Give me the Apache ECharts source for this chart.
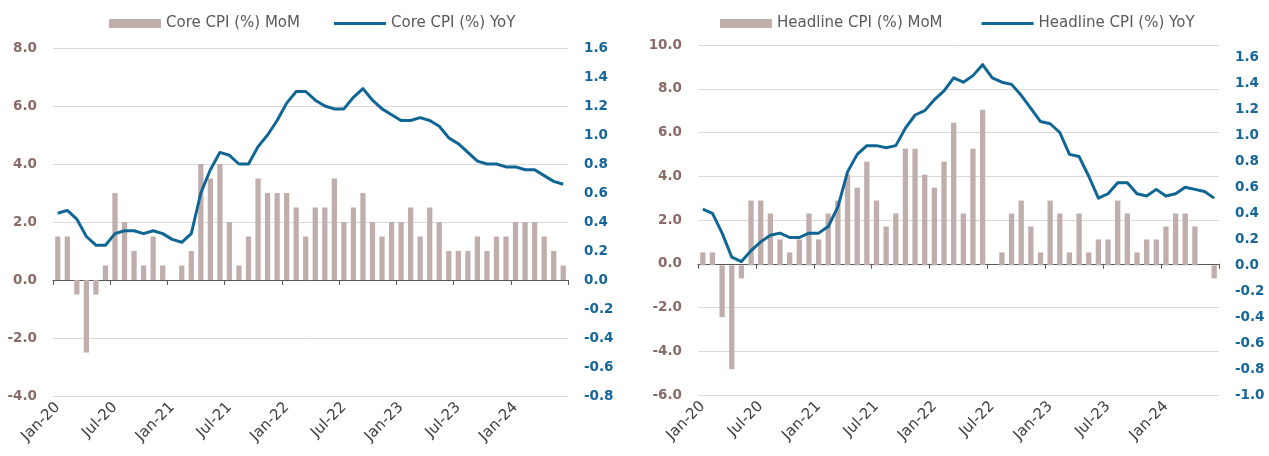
<!DOCTYPE html>
<html>
<head>
<meta charset="utf-8">
<script src="https://cdn.jsdelivr.net/npm/echarts@6/dist/echarts.min.js"></script>
<style>
  html, body { margin: 0; padding: 0; background: #fff; }
  #chart { width: 1269px; height: 456px; }
</style>
</head>
<body>
<div id="chart"></div>
<script>
// months, Jan-20 .. Jun-24
const months = [
  'Jan-20', 'Feb-20', 'Mar-20', 'Apr-20', 'May-20', 'Jun-20', 'Jul-20', 'Aug-20', 'Sep-20', 'Oct-20', 'Nov-20', 'Dec-20',
  'Jan-21', 'Feb-21', 'Mar-21', 'Apr-21', 'May-21', 'Jun-21', 'Jul-21', 'Aug-21', 'Sep-21', 'Oct-21', 'Nov-21', 'Dec-21',
  'Jan-22', 'Feb-22', 'Mar-22', 'Apr-22', 'May-22', 'Jun-22', 'Jul-22', 'Aug-22', 'Sep-22', 'Oct-22', 'Nov-22', 'Dec-22',
  'Jan-23', 'Feb-23', 'Mar-23', 'Apr-23', 'May-23', 'Jun-23', 'Jul-23', 'Aug-23', 'Sep-23', 'Oct-23', 'Nov-23', 'Dec-23',
  'Jan-24', 'Feb-24', 'Mar-24', 'Apr-24', 'May-24', 'Jun-24'
]

// core CPI
const coreMoM = [
  0.3, 0.3, -0.1, -0.5, -0.1, 0.1, 0.6, 0.4, 0.2, 0.1, 0.3, 0.1,
  0.0, 0.1, 0.2, 0.8, 0.7, 0.8, 0.4, 0.1, 0.3, 0.7, 0.6, 0.6,
  0.6, 0.5, 0.3, 0.5, 0.5, 0.7, 0.4, 0.5, 0.6, 0.4, 0.3, 0.4,
  0.4, 0.5, 0.3, 0.5, 0.4, 0.2, 0.2, 0.2, 0.3, 0.2, 0.3, 0.3,
  0.4, 0.4, 0.4, 0.3, 0.2, 0.1
]
const coreYoY = [
  2.3, 2.4, 2.1, 1.5, 1.2, 1.2, 1.6, 1.7, 1.7, 1.6, 1.7, 1.6,
  1.4, 1.3, 1.6, 3.0, 3.8, 4.4, 4.3, 4.0, 4.0, 4.6, 5.0, 5.5,
  6.1, 6.5, 6.5, 6.2, 6.0, 5.9, 5.9, 6.3, 6.6, 6.2, 5.9, 5.7,
  5.5, 5.5, 5.6, 5.5, 5.3, 4.9, 4.7, 4.4, 4.1, 4.0, 4.0, 3.9,
  3.9, 3.8, 3.8, 3.6, 3.4, 3.3
]

// headline CPI
const headMoM = [
  0.1, 0.1, -0.4, -0.8, -0.1, 0.5, 0.5, 0.4, 0.2, 0.1, 0.2, 0.4,
  0.2, 0.4, 0.5, 0.7, 0.6, 0.8, 0.5, 0.3, 0.4, 0.9, 0.9, 0.7,
  0.6, 0.8, 1.1, 0.4, 0.9, 1.2, 0.0, 0.1, 0.4, 0.5, 0.3, 0.1,
  0.5, 0.4, 0.1, 0.4, 0.1, 0.2, 0.2, 0.5, 0.4, 0.1, 0.2, 0.2,
  0.3, 0.4, 0.4, 0.3, 0.0, -0.1
]
const headYoY = [
  2.5, 2.3, 1.4, 0.3, 0.1, 0.6, 1.0, 1.3, 1.4, 1.2, 1.2, 1.4,
  1.4, 1.7, 2.6, 4.2, 5.0, 5.4, 5.4, 5.3, 5.4, 6.2, 6.8, 7.0,
  7.5, 7.9, 8.5, 8.3, 8.6, 9.1, 8.5, 8.3, 8.2, 7.7, 7.1, 6.5,
  6.4, 6.0, 5.0, 4.9, 4.0, 3.0, 3.2, 3.7, 3.7, 3.2, 3.1, 3.4,
  3.1, 3.2, 3.5, 3.4, 3.3, 3.0
]

const barColor = '#bfaeab'
const lineColor = '#0f6593'
const leftLabelColor = '#8a6b67'
const rightLabelColor = '#16669a'
const fontFamily = '"DejaVu Sans", sans-serif'
// thin bar used as the legend icon of the lines
const lineIcon = 'path://M0,0L52,0L52,3L0,3Z'

const labelAxis = (gridIndex) => ({
  type: 'category',
  gridIndex,
  data: months,
  position: 'bottom',
  boundaryGap: true,
  axisLine: { show: false, onZero: false },
  axisTick: { show: false },
  axisLabel: {
    interval: 5,
    rotate: 45,
    margin: 9,
    color: '#404040',
    fontSize: 15,
    fontFamily
  }
})

const zeroAxis = (gridIndex, yIndex) => ({
  type: 'category',
  gridIndex,
  data: months,
  position: 'bottom',
  boundaryGap: true,
  axisLine: {
    show: true,
    onZero: true,
    onZeroAxisIndex: yIndex,
    lineStyle: { color: '#595959', width: 1 }
  },
  axisTick: {
    show: true,
    interval: 5,
    length: 5,
    lineStyle: { color: '#595959', width: 1 }
  },
  axisLabel: { show: false },
  splitLine: { show: false }
})

const valueAxis = (gridIndex, position, min, max, interval, color, showGrid) => ({
  type: 'value',
  gridIndex,
  position,
  min,
  max,
  interval,
  axisLine: { show: false },
  axisTick: { show: false },
  axisLabel: {
    margin: 16,
    color,
    fontSize: 13.5,
    fontWeight: 'bold',
    fontFamily,
    showMaxLabel: max === 1.7 ? false : true,
    formatter: v => (Math.abs(v) < 1e-9 ? 0 : v).toFixed(1)
  },
  splitLine: {
    show: showGrid,
    lineStyle: { color: '#d9d9d9', width: 1 }
  }
})

const legendStyle = {
  itemWidth: 52,
  itemHeight: 9,
  textStyle: { color: '#595959', fontSize: 15, fontFamily }
}

const option = {
  animation: false,
  legend: [
    Object.assign({
      left: 104, top: 11, itemGap: 34,
      data: [
        { name: 'Core CPI (%) MoM', icon: 'rect' },
        { name: 'Core CPI (%) YoY', icon: lineIcon }
      ]
    }, legendStyle),
    Object.assign({
      left: 715, top: 11, itemGap: 39,
      data: [
        { name: 'Headline CPI (%) MoM', icon: 'rect' },
        { name: 'Headline CPI (%) YoY', icon: lineIcon }
      ]
    }, legendStyle)
  ],
  grid: [
    { left: 53, top: 48, width: 515, height: 348 },
    { left: 698, top: 45, width: 521, height: 350 }
  ],
  xAxis: [
    labelAxis(0),
    zeroAxis(0, 0),
    labelAxis(1),
    zeroAxis(1, 2)
  ],
  yAxis: [
    valueAxis(0, 'left', -4, 8, 2, leftLabelColor, true),
    valueAxis(0, 'right', -0.8, 1.6, 0.2, rightLabelColor, false),
    valueAxis(1, 'left', -6, 10, 2, leftLabelColor, true),
    valueAxis(1, 'right', -1.0, 1.7, 0.2, rightLabelColor, false)
  ],
  series: [
    {
      name: 'Core CPI (%) MoM',
      type: 'bar',
      xAxisIndex: 1,
      yAxisIndex: 1,
      data: coreMoM,
      barWidth: '55%',
      itemStyle: { color: barColor }
    },
    {
      name: 'Core CPI (%) YoY',
      type: 'line',
      xAxisIndex: 1,
      yAxisIndex: 0,
      data: coreYoY,
      symbol: 'none',
      lineStyle: { color: lineColor, width: 3, join: 'round' },
      itemStyle: { color: lineColor }
    },
    {
      name: 'Headline CPI (%) MoM',
      type: 'bar',
      xAxisIndex: 3,
      yAxisIndex: 3,
      data: headMoM,
      barWidth: '55%',
      itemStyle: { color: barColor }
    },
    {
      name: 'Headline CPI (%) YoY',
      type: 'line',
      xAxisIndex: 3,
      yAxisIndex: 2,
      data: headYoY,
      symbol: 'none',
      lineStyle: { color: lineColor, width: 3, join: 'round' },
      itemStyle: { color: lineColor }
    }
  ]
}

const chart = echarts.init(document.getElementById('chart'))
chart.setOption(option)
</script>
</body>
</html>
